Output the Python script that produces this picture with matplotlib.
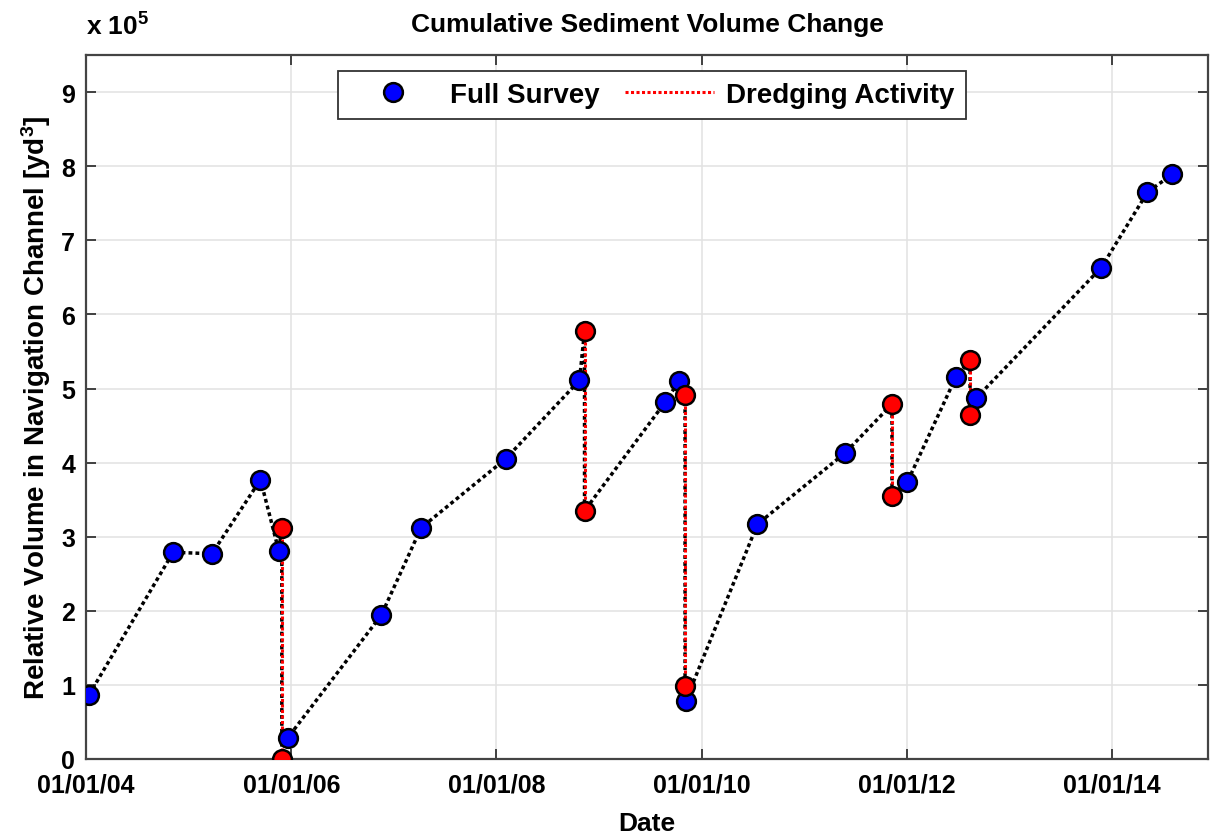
import numpy as np
import pandas as pd
import matplotlib
matplotlib.use("Agg")
import matplotlib.pyplot as plt
import matplotlib.dates as mdates
from matplotlib.lines import Line2D

plt.rcParams['font.family'] = ['Liberation Sans', 'DejaVu Sans']
plt.rcParams['font.weight'] = 'bold'
plt.rcParams['mathtext.fontset'] = 'custom'
plt.rcParams['mathtext.rm'] = 'Liberation Sans:bold'
plt.rcParams['mathtext.bf'] = 'Liberation Sans:bold'
plt.rcParams['mathtext.default'] = 'bf'

# full survey points (volume in 1e5 yd^3)
survey_dates = ['2004-01-12', '2004-11-06', '2005-03-24', '2005-09-13', '2005-11-17',
                '2005-12-20', '2006-11-17', '2007-04-08', '2008-02-03', '2008-10-23',
                '2009-08-25', '2009-10-12', '2009-11-05', '2010-07-19', '2011-05-27',
                '2012-01-04', '2012-06-24', '2012-09-05', '2013-11-24', '2014-05-08',
                '2014-08-04']
survey_vals = [0.87, 2.79, 2.77, 3.77, 2.81,
               0.29, 1.94, 3.12, 4.05, 5.11,
               4.82, 5.10, 0.78, 3.17, 4.13,
               3.74, 5.15, 4.87, 6.63, 7.65,
               7.89]

# dredging events: before / after values
dredge_dates = ['2005-11-28', '2008-11-10', '2009-11-03', '2011-11-10', '2012-08-14']
dredge_pre = [3.12, 5.77, 4.91, 4.79, 5.38]
dredge_post = [0.0, 3.35, 0.98, 3.55, 4.64]

sd = pd.to_datetime(survey_dates)
dd = pd.to_datetime(dredge_dates)

# one chronological path through every point for the dashed line
rows = [(d, 2, v) for d, v in zip(sd, survey_vals)]
rows += [(d, 0, v) for d, v in zip(dd, dredge_pre)]
rows += [(d, 1, v) for d, v in zip(dd, dredge_post)]
path = pd.DataFrame(rows, columns=['date', 'order', 'val']).sort_values(['date', 'order'])

fig = plt.figure(figsize=(12.13, 8.37), dpi=100)
ax = fig.add_axes([0.071, 0.092, 0.925, 0.841])

ax.plot(path['date'], path['val'], color='black', lw=2.5, ls=(0, (1.1, 0.9)), zorder=2)
for d, a, b in zip(dd, dredge_pre, dredge_post):
    ax.plot([d, d], [a, b], color='red', lw=2.2, ls=(0, (1, 0.8)), zorder=3)

ax.plot(sd, survey_vals, 'o', ms=13.5, mfc='blue', mec='black', mew=1.8, ls='none', zorder=4)
ax.plot(list(dd) + list(dd), dredge_pre + dredge_post, 'o', ms=13.5, mfc='red',
        mec='black', mew=1.8, ls='none', zorder=5)

ax.set_xlim(pd.Timestamp('2004-01-01'), pd.Timestamp('2014-12-10'))
ax.set_ylim(0, 9.5)
ax.set_yticks(np.arange(0, 10))
ax.xaxis.set_major_locator(mdates.YearLocator(2))
ax.xaxis.set_major_formatter(mdates.DateFormatter('%m/%d/%y'))
ax.tick_params(direction='in', length=7, width=1.3, top=True, right=True,
               labelsize=18, colors='#333333', labelcolor='black', pad=8)
ax.tick_params(axis='x', pad=10)
for s in ax.spines.values():
    s.set_linewidth(1.6)
    s.set_color('#444444')
ax.grid(True, color='#e2e2e2', lw=1.1)
ax.set_axisbelow(True)

ax.set_xlabel('Date', fontsize=19, fontweight='bold', labelpad=10)
ax.set_ylabel('Relative Volume in Navigation Channel [yd$^3$]', fontsize=20,
              fontweight='bold', labelpad=6)
ax.set_title('Cumulative Sediment Volume Change', fontsize=19, fontweight='bold', pad=17)
fig.text(0.071, 0.952, 'x 10$^5$', fontsize=19, fontweight='bold', ha='left', va='bottom')

handles = [Line2D([], [], marker='o', ms=13.5, mfc='blue', mec='black', mew=1.8, ls='none'),
           Line2D([], [], color='red', lw=2.2, ls=(0, (1, 0.8)))]
leg = ax.legend(handles, ['Full Survey', 'Dredging Activity'], ncol=2, loc='upper center',
                bbox_to_anchor=(0.504, 0.978), fancybox=False, framealpha=1,
                edgecolor='#333333', prop={'size': 20, 'weight': 'bold'},
                handlelength=3.2, columnspacing=0.9, borderpad=0.4, handletextpad=0.45,
                borderaxespad=0)
leg.get_frame().set_linewidth(1.3)

fig.savefig('out.png', dpi=100)
